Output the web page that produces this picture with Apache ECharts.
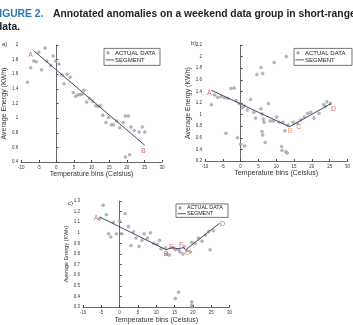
<!DOCTYPE html>
<html>
<head>
<meta charset="utf-8">
<script src="https://cdn.jsdelivr.net/npm/echarts@6/dist/echarts.min.js"></script>
<style>
  html, body { margin: 0; padding: 0; background: #fff; }
  #chart { width: 353px; height: 325px; }
</style>
</head>
<body>
<div id="chart"></div>
<script>
// x ticks shared by all panels
const tempTicks = { min: -10, max: 30, interval: 5 }

// panel a)
const aTemp = [-8.2, -7.3, -6.4, -5.7, -5.0, -4.2, -3.2, -2.7, -1.6, -0.9, -0.2, 0.7, 1.6, 2.2, 3.0, 3.9, 4.8, 5.5, 6.2, 6.8, 7.3, 7.8, 8.6, 9.4, 10.3, 11.2, 11.9, 12.5, 13.2, 14.1, 14.8, 15.6, 16.2, 17.1, 18.0, 19.0, 19.6, 20.5, 21.2, 22.1, 23.5, 24.4, 25.1, 19.6, 20.8]
const aEnergy = [1.49, 1.69, 1.78, 1.77, 1.90, 1.66, 1.96, 1.78, 1.72, 1.85, 1.78, 1.74, 1.59, 1.47, 1.60, 1.56, 1.35, 1.30, 1.32, 1.32, 1.33, 1.38, 1.22, 1.27, 1.23, 1.17, 1.16, 1.17, 1.04, 0.94, 1.01, 0.91, 0.91, 0.96, 0.87, 0.94, 1.03, 1.03, 0.88, 0.83, 0.81, 0.88, 0.81, 0.47, 0.50]
const aSegTemp = [-6.4, 25.1]
const aSegEnergy = [1.92, 0.63]
const aMarks = [['A', -7.3, 1.86], ['B', 24.7, 0.55]]

// panel b)
const bTemp = [-8.2, -7.3, -6.4, -5.4, -4.5, -3.6, -2.7, -1.8, -1.3, -0.4, 0.5, 1.0, 1.9, 2.8, 3.7, 4.2, 4.6, 5.7, 6.2, 5.7, 6.0, 6.4, 6.6, 6.0, 6.2, 6.9, 7.8, 8.3, 9.2, 9.4, 10.1, 10.8, 11.5, 11.6, 12.4, 12.8, 12.7, 13.1, 11.9, 13.3, 14.8, 16.0, 16.9, 17.9, 18.8, 19.7, 20.6, 22.0, 23.3, 24.2, 25.2, 23.8, -4.1, -0.9, 0.0, 1.1]
const bEnergy = [1.17, 1.34, 1.30, 1.31, 1.29, 1.28, 1.45, 1.46, 1.24, 1.19, 1.12, 1.15, 1.08, 1.26, 1.04, 0.94, 1.69, 1.81, 1.71, 1.10, 1.01, 0.92, 0.87, 0.71, 0.65, 0.52, 1.19, 0.89, 0.89, 1.90, 0.96, 0.87, 0.45, 0.38, 0.72, 2.00, 0.36, 0.34, 0.87, 0.82, 0.87, 0.85, 0.91, 0.96, 1.02, 1.04, 0.94, 1.02, 1.17, 1.22, 1.19, 1.14, 0.68, 0.60, 0.49, 0.46]
const bSegTemp = [-8.2, 13.7, 14.1, 25.4]
const bSegEnergy = [1.42, 0.79, 0.82, 1.19]
const bMarks = [['A', -8.8, 1.37], ['B', 13.9, 0.71], ['C', 16.3, 0.78], ['D', 26.1, 1.10]]

// panel c)
const cTemp = [-5.5, -4.5, -3.6, -3.0, -2.4, -1.7, -0.9, 0.0, 0.6, 1.5, 2.4, 3.1, 3.8, 4.5, 5.3, 6.1, 6.7, 7.6, 8.4, 9.3, 10.2, 10.9, 11.3, 12.5, 12.9, 13.6, 14.6, 15.2, 16.1, 16.5, 17.3, 17.6, 18.4, 19.3, 19.7, 20.6, 21.5, 22.5, 23.4, 24.3, 24.7, 25.6, 15.2, 16.1, 19.7, 19.7, 19.7]
const cEnergy = [1.13, 1.26, 1.17, 0.99, 0.96, 1.10, 0.99, 1.11, 0.99, 1.18, 1.06, 0.88, 1.01, 0.95, 0.87, 0.93, 0.99, 0.95, 1.00, 0.90, 0.89, 0.93, 0.85, 0.86, 0.80, 0.79, 0.86, 0.84, 0.84, 0.82, 0.80, 0.87, 0.83, 0.82, 0.91, 0.90, 0.95, 0.92, 0.98, 1.01, 0.84, 1.02, 0.38, 0.44, 0.35, 0.32, 0.30]
const cSegTemp = [-5.5, 12.7, 14.3, 16.0, 17.5, 18.0, 27.3]
const cSegEnergy = [1.15, 0.84, 0.86, 0.85, 0.86, 0.84, 1.09]
const cMarks = [['A', -6.4, 1.14], ['B', 12.7, 0.80], ['E', 14.1, 0.87], ['F', 16.8, 0.88], ['C', 18.4, 0.81], ['D', 28.1, 1.08]]

const markColor = '#d8434f'
const orange = '#e5863a'
const grey = '#a9a9a9'
const segColor = '#3d4a70'
const font = 'Liberation Sans'

function zip(xs, ys) {
  return xs.map((x, i) => [x, ys[i]])
}

function xAxisFor(idx, nameGap) {
  return {
    type: 'value', gridIndex: idx, ...tempTicks,
    name: 'Temperature bins (Celsius)', nameLocation: 'middle', nameGap: nameGap,
    nameTextStyle: { fontSize: 7, color: '#333', fontFamily: font },
    axisLine: { lineStyle: { color: '#444', width: 0.8 } },
    axisTick: { inside: true, length: 2, lineStyle: { color: '#444' } },
    axisLabel: { fontSize: 4.5, color: '#333', margin: 3, fontFamily: font },
    splitLine: { show: false }
  }
}

function yAxisFor(idx, min, max, interval, nameGap, nameSize) {
  return {
    type: 'value', gridIndex: idx, min: min, max: max, interval: interval,
    name: 'Average Energy (KWh)', nameLocation: 'middle', nameGap: nameGap,
    nameTextStyle: { fontSize: nameSize, color: '#333', fontFamily: font },
    axisLine: { show: true, lineStyle: { color: '#444', width: 0.8 } },
    axisTick: { show: true, inside: true, length: 2, lineStyle: { color: '#444' } },
    axisLabel: { fontSize: 4.5, color: '#333', margin: 3, fontFamily: font },
    splitLine: { show: false }
  }
}

function panelSeries(idx, temp, energy, segT, segE, marks, colors) {
  return [
    {
      name: 'ACTUAL DATA', type: 'scatter', xAxisIndex: idx, yAxisIndex: idx,
      data: zip(temp, energy), symbol: 'circle', symbolSize: 3,
      itemStyle: { color: grey, borderColor: '#888', borderWidth: 0.4 },
      silent: true
    },
    {
      name: 'SEGMENT', type: 'line', xAxisIndex: idx, yAxisIndex: idx,
      data: zip(segT, segE), showSymbol: false, symbol: 'none',
      lineStyle: { color: segColor, width: 1 }, itemStyle: { color: segColor },
      silent: true
    },
    {
      name: 'marks' + idx, type: 'scatter', xAxisIndex: idx, yAxisIndex: idx,
      symbolSize: 0, silent: true,
      data: marks.map((m, i) => ({
        value: [m[1], m[2]],
        label: {
          show: true, formatter: m[0], position: 'inside',
          color: colors[i] || markColor, fontSize: 7, fontFamily: font
        }
      }))
    }
  ]
}

// hand drawn legend box, like the MATLAB one
function legendBox(x, y, w, h, size, row1, row2) {
  return {
    type: 'group', left: x, top: y,
    children: [
      { type: 'rect', shape: { x: 0, y: 0, width: w, height: h }, style: { fill: '#fff', stroke: '#555', lineWidth: 0.8 } },
      { type: 'circle', shape: { cx: 4, cy: row1, r: 1.3 }, style: { fill: grey, stroke: '#888', lineWidth: 0.4 } },
      { type: 'text', x: 11, y: row1, style: { text: 'ACTUAL DATA', fill: '#222', font: size + 'px "Liberation Sans"', verticalAlign: 'middle' } },
      { type: 'line', shape: { x1: 1.5, y1: row2, x2: 10, y2: row2 }, style: { stroke: segColor, lineWidth: 0.9 } },
      { type: 'text', x: 11, y: row2, style: { text: 'SEGMENT', fill: '#222', font: size + 'px "Liberation Sans"', verticalAlign: 'middle' } }
    ]
  }
}

const chart = echarts.init(document.getElementById('chart'), null, { renderer: 'canvas' })

chart.setOption({
  animation: false,
  backgroundColor: '#fff',
  grid: [
    { left: 17, top: 45, width: 145, height: 117 },
    { left: 205, top: 45, width: 145, height: 116 },
    { left: 83, top: 201, width: 146.5, height: 115.7 }
  ],
  xAxis: [xAxisFor(0, 8), xAxisFor(1, 8), xAxisFor(2, 10)],
  yAxis: [
    yAxisFor(0, 0.4, 2, 0.2, 9, 7),
    yAxisFor(1, 0.2, 2.2, 0.2, 9, 7),
    yAxisFor(2, 0.3, 1.3, 0.1, 9, 5.5)
  ],
  graphic: [
    { type: 'text', left: -7, top: 9.5, style: { text: 'FIGURE 2.', fill: '#2b78b5', font: 'bold 10.3px "Liberation Sans"' } },
    { type: 'text', left: 53, top: 9.5, style: { text: 'Annotated anomalies on a weekend data group in short-range', fill: '#222', font: 'bold 10.3px "Liberation Sans"' } },
    { type: 'text', left: -4, top: 22.5, style: { text: 'data.', fill: '#222', font: 'bold 10.3px "Liberation Sans"' } },
    { type: 'text', left: 2, top: 41, style: { text: 'a)', fill: '#333', font: '6px "Liberation Sans"' } },
    { type: 'text', left: 191, top: 40, style: { text: 'b)', fill: '#333', font: '6px "Liberation Sans"' } },
    { type: 'text', left: 68, top: 200, style: { text: 'c)', fill: '#333', font: '6px "Liberation Sans"' } },
    legendBox(103, 48, 56, 17, 6, 4.5, 11.5),
    legendBox(293, 48, 58, 17, 6, 4.5, 11.5),
    legendBox(175, 203.5, 52, 13.5, 5.3, 4, 9.8)
  ],
  series: [
    ...panelSeries(0, aTemp, aEnergy, aSegTemp, aSegEnergy, aMarks, []),
    ...panelSeries(1, bTemp, bEnergy, bSegTemp, bSegEnergy, bMarks, [markColor, orange]),
    ...panelSeries(2, cTemp, cEnergy, cSegTemp, cSegEnergy, cMarks, [markColor, markColor, markColor, markColor, orange])
  ]
})
</script>
</body>
</html>
